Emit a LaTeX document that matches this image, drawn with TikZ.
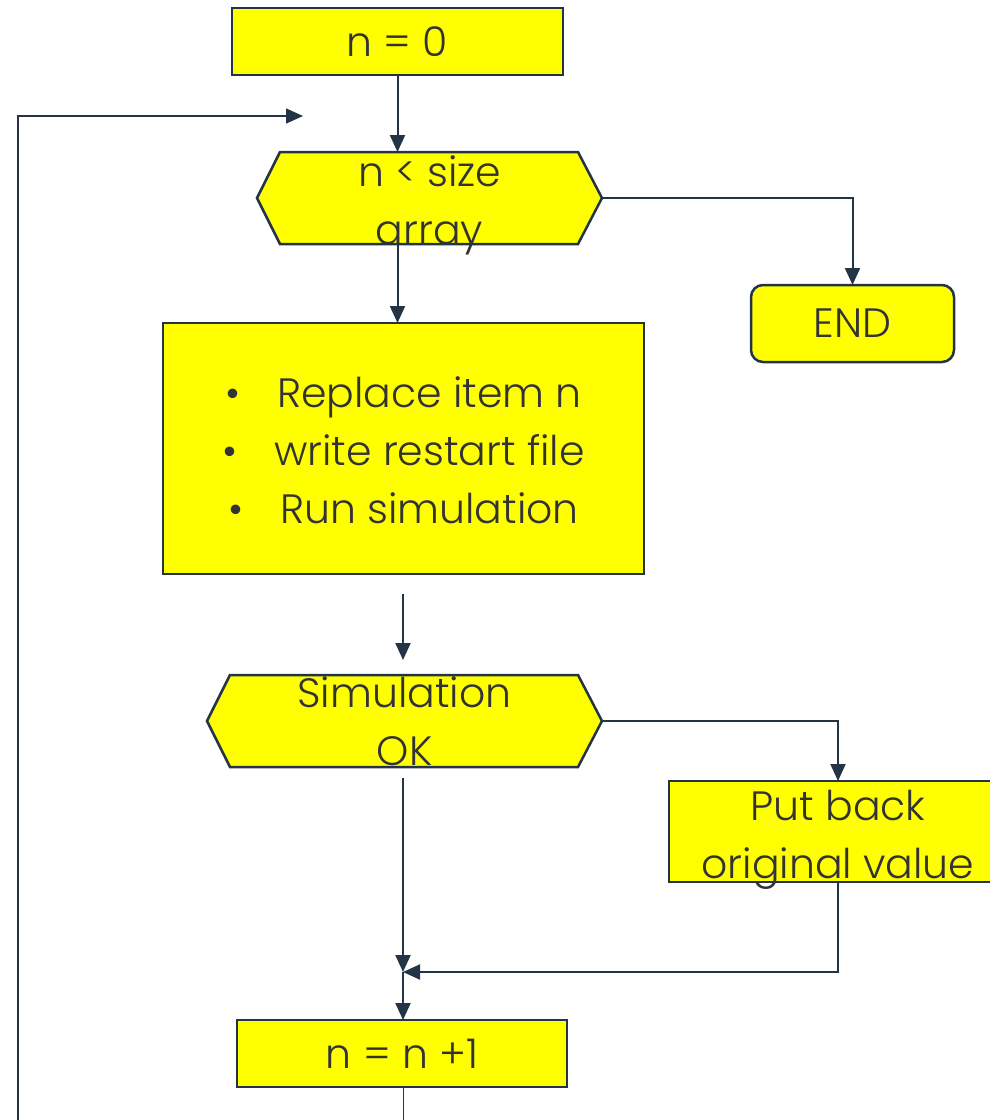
\documentclass[tikz,border=0pt]{standalone}
\usepackage{fontspec}
\setmainfont{Poppins}[UprightFont=* Light]
\usetikzlibrary{arrows.meta,backgrounds}
\definecolor{ln}{HTML}{243447}
\definecolor{tx}{HTML}{333333}
\definecolor{yl}{HTML}{FFFF00}
\tikzset{
  base/.style={text=tx, font=\fontsize{41}{58}\selectfont, align=center, inner sep=0pt, outer sep=0pt},
  box/.style={base, draw=ln, line width=2.5pt, fill=yl},
  hexnode/.style={base},
  hexpath/.style={draw=ln, line width=2.5pt, fill=yl, line join=miter},
  conn/.style={draw=ln, line width=2pt, -{Triangle[width=15pt,length=17pt]}},
}
\newcommand{\lowered}[2]{\raisebox{#1}[0pt][0pt]{\begin{tabular}{@{}c@{}}#2\end{tabular}}}
\begin{document}
\begin{tikzpicture}[x=1pt,y=-1pt]
\useasboundingbox (0,0) rectangle (990,1120);
% nodes
\node[box, minimum width=331pt, minimum height=67pt] (n0) at (397.5,41.5) {n = 0};
\node[hexnode, minimum width=345pt, minimum height=92pt] (h1) at (429.5,198) {\lowered{-12.5pt}{n < size\\array}};
\node[box, rounded corners=12pt, minimum width=203pt, minimum height=77pt] (endn) at (852.5,323.5) {END};
\node[box, minimum width=481pt, minimum height=251pt] (proc) at (403.5,448.5)
  {\lowered{-12pt}{\makebox[52pt][l]{•}Replace item n\\\makebox[52pt][l]{•}write restart file\\\makebox[52pt][l]{•}Run simulation}};
\node[hexnode, minimum width=395pt, minimum height=92pt] (h2) at (404.5,721) {Simulation\\OK};
\node[box, minimum width=338pt, minimum height=101pt] (pb) at (838,831.5) {\lowered{-13pt}{Put back\\original value}};
\node[box, minimum width=330pt, minimum height=67pt] (n1) at (402,1053.5) {n = n +1};
\begin{scope}[on background layer]
\path[hexpath] (h1.west) -- ([xshift=23pt]h1.north west) -- ([xshift=-24pt]h1.north east) -- (h1.east)
  -- ([xshift=-24pt]h1.south east) -- ([xshift=23pt]h1.south west) -- cycle;
\path[hexpath] (h2.west) -- ([xshift=23pt]h2.north west) -- ([xshift=-24pt]h2.north east) -- (h2.east)
  -- ([xshift=-24pt]h2.south east) -- ([xshift=23pt]h2.south west) -- cycle;
\end{scope}
% coordinates
\coordinate (lp0) at (18,1120);
\coordinate (lp1) at (303,116);
\coordinate (m) at (403,972);
\coordinate (bot) at (403,1120);
% connectors
\draw[conn] (n0.south) -- (n0.south |- h1.north);
\draw[conn] (n0.south |- h1.south) -- (n0.south |- proc.north);
\draw[conn] (h1.east) -| (endn.north);
\draw[conn, line width=1.5pt] (lp0) |- (lp1);
\draw[conn] ([yshift=-20pt]proc.south -| m) -- ([yshift=15pt]h2.north -| m);
\draw[conn] (h2.east) -| (pb.north);
\draw[conn] ([yshift=-11pt]h2.south -| m) -- (m);
\draw[conn] (pb.south) |- (m);
\draw[conn] (m) -- (m |- n1.north);
\draw[draw=ln, line width=1pt] (n1.south -| m) -- (bot);
\end{tikzpicture}
\end{document}
